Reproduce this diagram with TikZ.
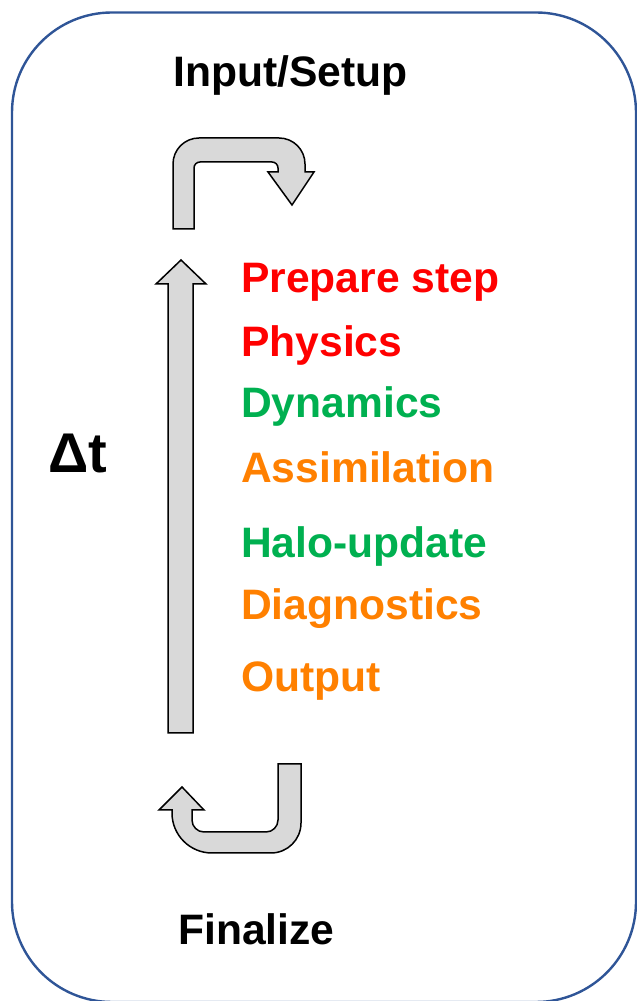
\documentclass[tikz,border=0pt]{standalone}
\usepackage{fontspec}
\setmainfont{Liberation Sans}

\definecolor{boxblue}{HTML}{2F5597}
\definecolor{stepred}{HTML}{FF0000}
\definecolor{stepgreen}{HTML}{00B050}
\definecolor{steporange}{HTML}{FF8000}
\definecolor{arrowgrey}{HTML}{D9D9D9}

\tikzset{
  blockarrow/.style={fill=arrowgrey, draw=black, line width=1.5pt, line join=miter},
  steplabel/.style={anchor=base west, inner sep=0pt, font=\fontsize{42.6}{43}\selectfont\bfseries}
}

\begin{document}
\begin{tikzpicture}[x=1pt,y=1pt]

\useasboundingbox (0,0) rectangle (637,1001);

% Cadre
\draw[boxblue, line width=2.4pt, rounded corners=100pt] (12,-1) rectangle (636,988.5);

% Titres
\node[steplabel] (setup) at (173,914) {Input/Setup};
\node[steplabel] (final) at (178,56) {Finalize};
\node[steplabel, font=\fontsize{56}{56}\selectfont\bfseries] (dt) at (48,528) {Δt};

% Etapes
\foreach \name/\y/\col/\txt in {
prep/708/stepred/Prepare step,
phys/644/stepred/Physics,
dyn/583/stepgreen/Dynamics,
assim/518/steporange/Assimilation,
halo/443/stepgreen/Halo-update,
diag/381/steporange/Diagnostics,
out/309/steporange/Output
}
{
\node[steplabel, text=\col] (\name) at (241,\y) {\txt};
}

% Boucle
\draw[blockarrow]
(168,268) -- (168,717) -- (156,717) -- (181,741)
-- (206,717) -- (193,717) -- (193,268) -- cycle;

% Entree
\draw[blockarrow]
(173,772) -- (173,837) arc[start angle=180, end angle=90, radius=26]
-- (279,863) arc[start angle=90, end angle=0, radius=26]
-- (305,829) -- (314,829) -- (292,796) -- (268,829) -- (278,829)
-- (278,833) arc[start angle=0, end angle=90, radius=6]
-- (200,839) arc[start angle=90, end angle=180, radius=6]
-- (194,772) -- cycle;

% Sortie
\draw[blockarrow]
(278,237) -- (301,237) -- (301,178) arc[start angle=0, end angle=-90, radius=30]
-- (212,148) arc[start angle=270, end angle=180, radius=40]
-- (172,191) -- (159,191) -- (182,214) -- (204,191) -- (192,191)
-- (192,181) arc[start angle=180, end angle=270, radius=12]
-- (266,169) arc[start angle=270, end angle=360, radius=12]
-- cycle;

\end{tikzpicture}
\end{document}
